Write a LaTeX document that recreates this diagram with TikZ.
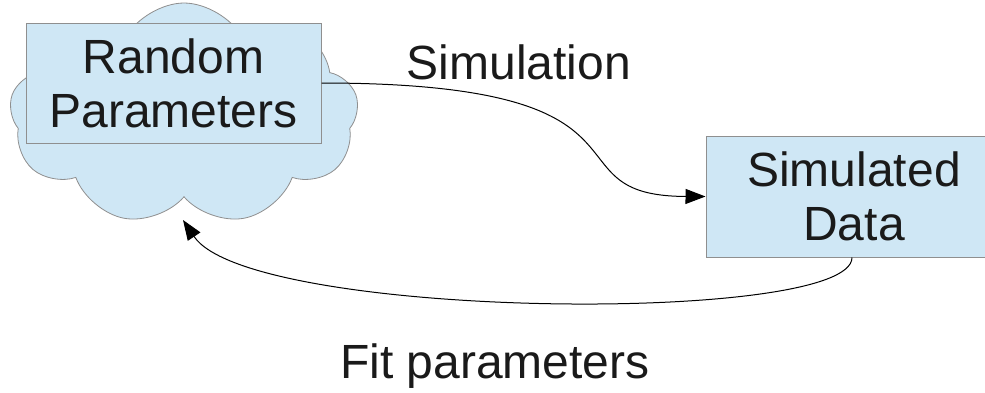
\documentclass[tikz,border=0pt]{standalone}
\usepackage{fontspec}
\setmainfont{Liberation Sans}
\usetikzlibrary{shapes.symbols,arrows.meta}
\definecolor{boxfill}{HTML}{CFE7F5}
\definecolor{boxline}{HTML}{8F8F8F}
\definecolor{txt}{HTML}{1A1A1A}
\tikzset{
  box/.style={draw=boxline, fill=boxfill, line width=1pt, align=center, text=txt,
    font=\fontsize{48}{54}\selectfont, inner sep=0pt},
  lbl/.style={text=txt, font=\fontsize{48}{54}\selectfont, inner sep=0pt},
  conn/.style={line width=1pt, -{Triangle[length=20pt,width=15pt]}}
}
\begin{document}
\begin{tikzpicture}[x=1pt,y=-1pt]
\useasboundingbox (0,0) rectangle (985,392);
\clip (0,0) rectangle (985,392);
\node[cloud, cloud puffs=9, cloud puff arc=120, aspect=1.6, minimum width=349pt, minimum height=222pt,
  draw=boxline, fill=boxfill, line width=0.8pt, inner sep=0pt] (cloud) at (184,114) {};
\node[box, minimum width=295pt, minimum height=120pt] (rp) at (173.5,83) {Random\\Parameters};
\node[box, minimum width=296pt, minimum height=121pt] (sd) at (854,196.5) {Simulated\\Data};
\node[lbl] (sim) at (519,62) {Simulation};
\node[lbl] (fit) at (495,366) {Fit parameters};
\coordinate (tip) at (183,220);
\draw[conn] (rp.east) .. controls (680,83) and (540,196) .. (sd.west);
\draw[conn] ([xshift=-2pt]sd.south) .. controls (852,325) and (250,320) .. (tip);
\end{tikzpicture}
\end{document}
